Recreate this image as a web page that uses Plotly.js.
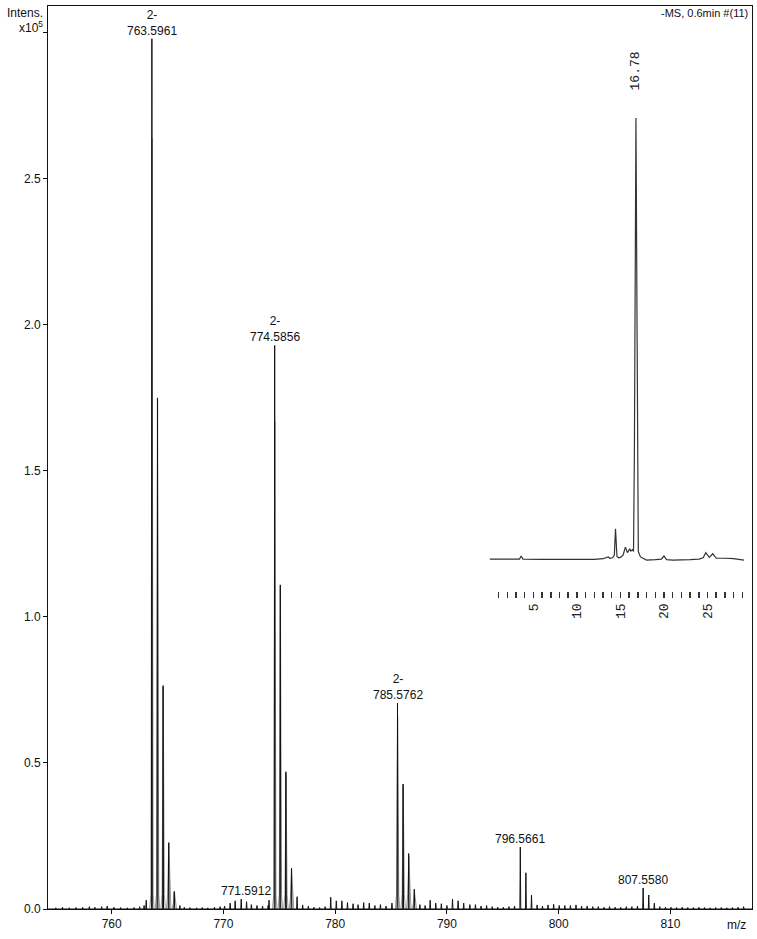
<!DOCTYPE html>
<html>
<head>
<meta charset="utf-8">
<script src="https://cdn.plot.ly/plotly-3.0.1.min.js"></script>
<style>html,body{margin:0;padding:0;background:#fff;}#chart{width:757px;height:939px;}</style>
</head>
<body>
<div id="chart"></div>
<script>
// ---- Main mass spectrum (intensity x10^5) ----
var peakMz  = [763.09, 763.5961, 764.097, 764.598, 765.10, 765.60, 766.10,
               774.08, 774.5856, 775.087, 775.588, 776.09, 776.59, 777.09,
               785.08, 785.5762, 786.077, 786.578, 787.08, 787.58,
               796.5661, 797.067, 797.568, 798.07,
               807.5580, 808.06, 808.56,
               771.5912];
var peakInt = [0.03, 2.98, 1.75, 0.765, 0.226, 0.06, 0.012,
               0.03, 1.93, 1.11, 0.47, 0.14, 0.042, 0.014,
               0.02, 0.705, 0.428, 0.19, 0.068, 0.015,
               0.212, 0.124, 0.048, 0.014,
               0.072, 0.048, 0.02,
               0.034];
var noiseMz  = [755.0,755.6,756.2,756.8,757.4,758.0,758.5,759.1,759.6,760.2,760.8,761.4,762.0,762.5,762.9,
                766.5,767.0,767.6,768.1,768.6,769.2,769.7,770.1,770.6,771.05,772.07,772.5,773.0,773.5,774.0,
                777.6,778.1,778.6,779.1,779.6,780.1,780.6,781.1,781.6,782.05,782.55,783.05,783.55,784.05,784.55,
                788.05,788.5,789.0,789.5,790.0,790.5,791.0,791.5,792.05,792.55,793.05,793.55,794.05,794.55,795.05,795.55,796.05,
                798.55,799.05,799.55,800.05,800.55,801.05,801.55,802.05,802.55,803.05,803.55,804.05,804.55,805.05,805.55,806.05,806.55,807.05,
                809.05,809.55,810.05,810.55,811.05,811.55,812.05,812.55,813.05,813.55,814.05,814.55,815.05,815.55,816.05,816.55];
var noiseInt = [0.004,0.006,0.004,0.005,0.006,0.008,0.006,0.008,0.01,0.006,0.005,0.004,0.005,0.008,0.012,
                0.006,0.005,0.004,0.005,0.004,0.006,0.008,0.01,0.02,0.028,0.025,0.015,0.012,0.01,0.012,
                0.01,0.006,0.005,0.008,0.04,0.028,0.028,0.022,0.018,0.015,0.022,0.02,0.012,0.015,0.01,
                0.012,0.03,0.02,0.018,0.012,0.034,0.028,0.02,0.015,0.015,0.01,0.012,0.008,0.006,0.006,0.008,0.01,
                0.01,0.014,0.016,0.012,0.012,0.012,0.014,0.01,0.01,0.008,0.008,0.006,0.008,0.006,0.006,0.008,0.008,0.01,
                0.008,0.006,0.006,0.005,0.006,0.005,0.005,0.006,0.005,0.004,0.005,0.005,0.004,0.005,0.006,0.008];
// Grey (reference) isotope profile
var greyMz  = [763.60, 764.10, 764.60, 765.10, 765.60,
               774.59, 775.09, 775.59, 776.09,
               785.58, 786.08, 786.58, 787.08];
var greyInt = [2.64, 1.74, 0.76, 0.23, 0.06,
               1.67, 1.10, 0.46, 0.135,
               0.66, 0.42, 0.18, 0.06];
// Peak labels
var labelMz     = [763.5961, 774.5856, 785.5762, 796.5661, 807.5580, 771.5912];
var labelCharge = ["2-", "2-", "2-", "", "", ""];
var xTickVals = [760, 770, 780, 790, 800, 810];
var yTickVals = [0, 0.5, 1.0, 1.5, 2.0, 2.5, 3.0];
var yTickText = ["0.0", "0.5", "1.0", "1.5", "2.0", "2.5", ""];

// ---- Inset chromatogram ----
var chromTime = [0.0, 2.0, 3.4, 3.6, 3.8, 6.0, 9.0, 12.0, 13.0, 13.4, 13.6, 13.8, 14.1, 14.3, 14.43, 14.6, 14.8, 15.0, 15.3,
                 15.57, 15.8, 16.07, 16.2, 16.38, 16.5, 16.6, 16.7, 16.78, 16.86, 16.95, 17.05, 17.3, 18.0, 19.0, 19.7, 20.0, 20.3,
                 21.0, 22.0, 23.0, 24.0, 24.5, 24.8, 25.2, 25.6, 26.0, 27.0, 28.0, 29.2];
var chromInt  = [1.3, 1.3, 1.3, 2.0, 1.3, 1.25, 1.2, 1.25, 1.4, 1.6, 1.8, 1.5, 1.6, 2.2, 8.1, 1.9, 1.6, 1.7, 2.2,
                 4.0, 2.75, 3.6, 3.1, 3.4, 3.0, 25, 75, 100, 70, 22, 3.0, 1.8, 1.1, 1.2, 1.3, 2.0, 1.2,
                 1.1, 1.1, 1.2, 1.3, 1.6, 2.75, 1.7, 2.5, 1.5, 1.5, 1.4, 1.1];
var chromTickVals = [];
var chromTickText = [];
for (var t = 1; t <= 29; t++) { chromTickVals.push(t); chromTickText.push(t % 5 === 0 ? String(t) : ""); }
var chromPeakTime = 16.78, chromPeakInt = 100, chromPeakLabel = "16.78";

// ---- Build traces from data ----
var all = [];
peakMz.forEach(function (m, i) { all.push([m, peakInt[i]]); });
noiseMz.forEach(function (m, i) { all.push([m, noiseInt[i]]); });
all.sort(function (a, b) { return a[0] - b[0]; });
var xr = [754.3, 817.3];
var bx = [xr[0]], by = [0];
all.forEach(function (p) {
  bx.push(p[0] - 0.04, p[0], p[0] + 0.04);
  by.push(0, p[1], 0);
});
bx.push(xr[1]); by.push(0);

var gx = [], gy = [];
greyMz.forEach(function (m, i) {
  var h = greyInt[i], hb = Math.min(0.05, 0.3 * h);
  gx.push(m - 0.2, m - 0.09, m + 0.01, m + 0.11, m + 0.2);
  gy.push(0, hb, h, hb, 0);
  gx.push(null); gy.push(null);
});

var traces = [
  {x: gx, y: gy, type: 'scatter', mode: 'lines', line: {color: '#9a9a9a', width: 1}, hoverinfo: 'skip', connectgaps: false},
  {x: bx, y: by, type: 'scatter', mode: 'lines', line: {color: '#111', width: 1}, hoverinfo: 'skip'},
  {x: chromTime, y: chromInt, type: 'scatter', mode: 'lines', xaxis: 'x2', yaxis: 'y2',
   line: {color: '#333', width: 1.2}, hoverinfo: 'skip'}
];

var font = 'Liberation Sans, Arial, sans-serif';
var annotations = [];
labelMz.forEach(function (m, i) {
  var idx = peakMz.indexOf(m);
  var txt = (labelCharge[i] ? labelCharge[i] + '<br>' : '') + m.toFixed(4);
  annotations.push({x: m, y: peakInt[idx], xref: 'x', yref: 'y', text: txt, showarrow: false,
    xanchor: 'center', yanchor: 'bottom', yshift: -1, xshift: (i === 5 ? 5 : 0),
    font: {family: font, size: 12, color: '#111'}});
});
annotations.push({x: -0.004, y: 0.9922, xref: 'paper', yref: 'paper', text: 'Intens.', showarrow: false,
  xanchor: 'right', yanchor: 'middle', font: {family: font, size: 12, color: '#111'}});
annotations.push({x: -0.004, y: 0.9767, xref: 'paper', yref: 'paper', text: 'x10<sup>5</sup>', showarrow: false,
  xanchor: 'right', yanchor: 'middle', font: {family: font, size: 12, color: '#111'}});
annotations.push({x: 0.997, y: 0.9922, xref: 'paper', yref: 'paper', text: '-MS, 0.6min #(11)', showarrow: false,
  xanchor: 'right', yanchor: 'middle', font: {family: font, size: 11, color: '#111'}});
annotations.push({x: 0.995, y: 0, xref: 'paper', yref: 'paper', text: 'm/z', showarrow: false,
  xanchor: 'right', yanchor: 'top', yshift: -7, font: {family: font, size: 12, color: '#111'}});
annotations.push({x: chromPeakTime, y: chromPeakInt, xref: 'x2', yref: 'y2', text: chromPeakLabel, showarrow: false,
  textangle: -90, xanchor: 'center', yanchor: 'bottom', yshift: 26,
  font: {family: 'Liberation Mono, monospace', size: 13, color: '#222'}});

var layout = {
  width: 757, height: 939,
  margin: {l: 48, r: 5, t: 6, b: 30, pad: 0},
  paper_bgcolor: '#fff', plot_bgcolor: '#fff',
  showlegend: false,
  xaxis: {range: xr, tickvals: xTickVals, ticks: 'outside', ticklen: 4, tickcolor: '#111',
    showline: true, linecolor: '#111', linewidth: 1, mirror: true, showgrid: false, zeroline: false,
    tickfont: {family: font, size: 12, color: '#111'}},
  yaxis: {range: [0, 3.092], tickvals: yTickVals, ticktext: yTickText, ticks: 'outside', ticklen: 4, tickcolor: '#111',
    showline: true, linecolor: '#111', linewidth: 1, mirror: true, showgrid: false, zeroline: false,
    tickfont: {family: font, size: 12, color: '#111'}},
  xaxis2: {domain: [0.6264, 0.990], range: [-0.1, 29.3], anchor: 'free', position: 0.352,
    tickvals: chromTickVals, ticktext: chromTickText, ticks: 'outside', ticklen: 6, tickwidth: 1.5, tickcolor: '#333',
    tickangle: -90, showline: false, showgrid: false, zeroline: false,
    tickfont: {family: 'Liberation Mono, monospace', size: 13, color: '#222'}},
  yaxis2: {domain: [0.381, 0.876], range: [0, 100], anchor: 'x2', visible: false, showgrid: false, zeroline: false},
  annotations: annotations
};

Plotly.newPlot('chart', traces, layout, {displayModeBar: false, staticPlot: true});
</script>
</body>
</html>
